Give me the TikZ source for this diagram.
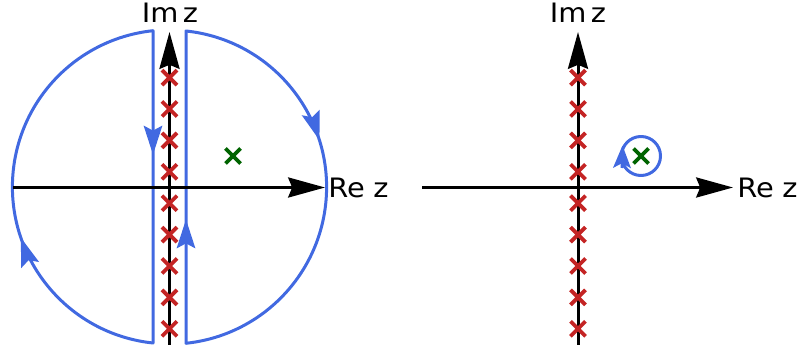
\documentclass[tikz,border=0pt]{standalone}
\usepackage{fontspec}
\setmainfont{DejaVu Sans}
\usetikzlibrary{arrows.meta, shapes.misc, decorations.markings}
\definecolor{cpblue}{RGB}{65,105,225}
\definecolor{cpred}{RGB}{196,36,36}
\definecolor{cpgreen}{RGB}{0,100,0}

\begin{document}
\begin{tikzpicture}[
  x=0.025cm, y=-0.025cm,
  axis/.style={line width=0.075cm, -{Stealth[length=0.92cm, width=0.5cm, inset=0.1cm]}},
  contour/.style={cpblue, line width=0.075cm, line join=round},
  pole/.style={cross out, draw=cpred, line width=0.095cm, minimum size=0.28cm, inner sep=0pt},
  zero/.style={cross out, draw=cpgreen, line width=0.095cm, minimum size=0.28cm, inner sep=0pt},
  lbl/.style={font=\fontsize{19}{22}\selectfont, inner sep=0pt, xscale=1.08},
  midarrow/.style 2 args={postaction={decorate, decoration={markings,
    mark=at position #1 with {\arrow{Stealth[length=#2, width=0.46cm, inset=0.12cm]}}}}}
]
\useasboundingbox (0,0) rectangle (800,352);

% left plane: the two closed contours
\coordinate (c1) at (169.5,187.5);
\coordinate (ltop) at (153,31);
\coordinate (lbot) at (153,343);
\coordinate (rtop) at (186,31);
\coordinate (rbot) at (186,343);
\draw[contour, midarrow={0.16}{0.72cm}, midarrow={0.635}{0.72cm}]
  (ltop) -- (lbot) arc[start angle=96, end angle=264, radius=157] -- cycle;
\draw[contour, midarrow={0.16}{0.72cm}, midarrow={0.64}{0.72cm}]
  (rbot) -- (rtop) arc[start angle=-84, end angle=84, radius=157] -- cycle;

% left plane: axes
\coordinate (x1s) at (13,187.5);
\coordinate (x1e) at (325,187.5);
\coordinate (y1s) at (169.5,345);
\coordinate (y1e) at (169.5,32);
\draw[axis] (x1s) -- (x1e);
\draw[axis] (y1s) -- (y1e);
\node[lbl, anchor=west] (re1) at (328,187.5) {Re\hspace{0.3em}z};
\node[lbl, anchor=base] (im1) at (170,23) {Im\hspace{0.15em}z};

% right plane: axes
\coordinate (c2) at (578,187.5);
\coordinate (x2s) at (422,187.5);
\coordinate (x2e) at (733,187.5);
\coordinate (y2s) at (578,345);
\coordinate (y2e) at (578,32);
\draw[axis] (x2s) -- (x2e);
\draw[axis] (y2s) -- (y2e);
\node[lbl, anchor=west] (re2) at (737,187.5) {Re\hspace{0.3em}z};
\node[lbl, anchor=base] (im2) at (578,23) {Im\hspace{0.15em}z};

% poles on the imaginary axis
\foreach \k in {-4,...,4} {
  \node[pole] (pl\k) at ([yshift={-(15.7+31.4*\k)*0.025cm}]c1) {};
  \node[pole] (pr\k) at ([yshift={-(15.7+31.4*\k)*0.025cm}]c2) {};
}

% the other pole and its small contour
\node[zero] (z1) at (233,156) {};
\node[zero] (z2) at (641,156) {};
\draw[contour] (z2) circle[radius=19.5];
\coordinate (sa) at (622,168);
\coordinate (sb) at (622.5,145.5);
\draw[contour, -{Stealth[length=0.56cm, width=0.44cm, inset=0.12cm]}] (sa) -- (sb);
\end{tikzpicture}
\end{document}
